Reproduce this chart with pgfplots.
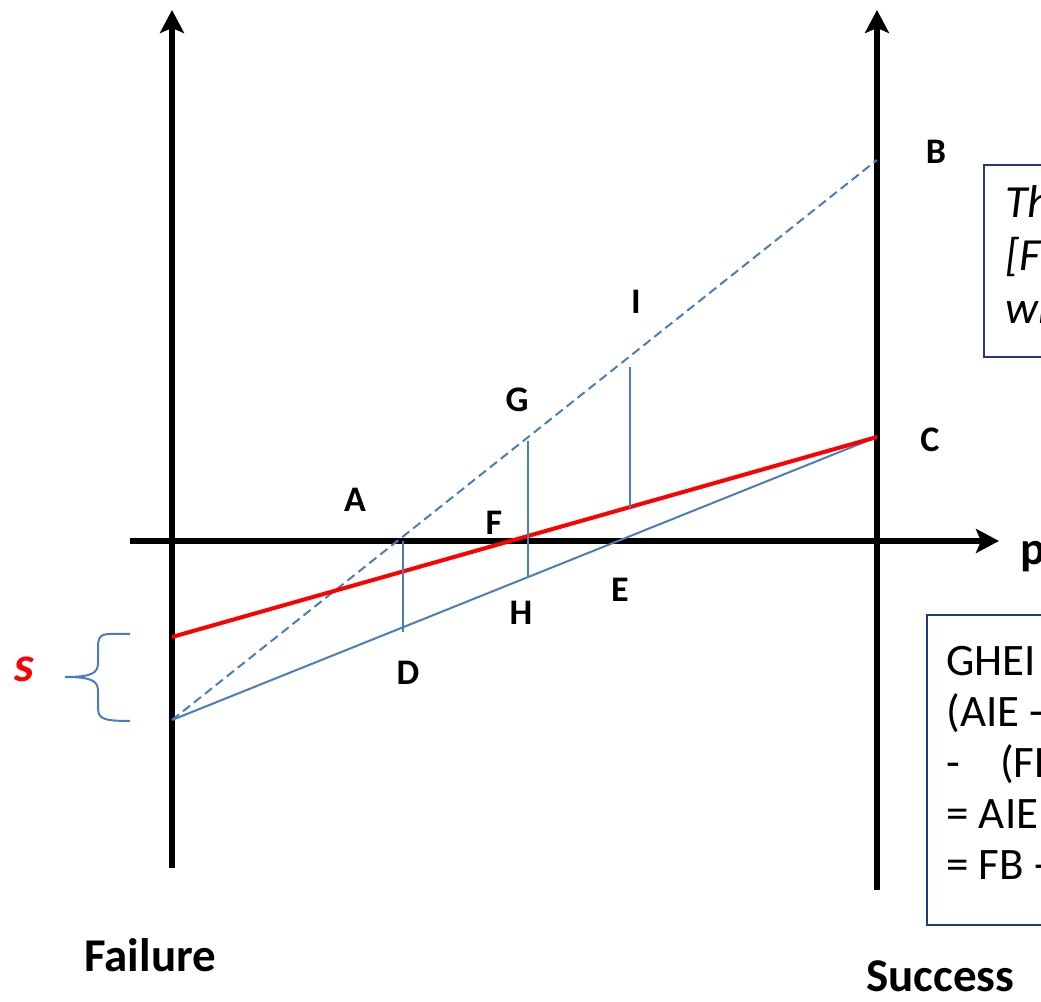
\documentclass[border=0pt]{standalone}
\usepackage{fontspec}
\setmainfont{Carlito}
\usepackage{pgfplots}
\pgfplotsset{compat=1.18}
\usetikzlibrary{arrows.meta}
\definecolor{lblue}{HTML}{4A7EBB}
\definecolor{navy}{HTML}{24397A}
\begin{document}
\begin{tikzpicture}
\useasboundingbox (0,0) rectangle (520.5pt,501pt);
\clip (0,0) rectangle (520.5pt,501pt);
\begin{axis}[at={(0,0)}, anchor=south west, scale only axis,
  width=520.5pt, height=501pt, xmin=0, xmax=1041, ymin=0, ymax=1002,
  hide axis, clip=false]
% axes
\addplot[black, line width=3pt, -{Stealth[length=11.5pt,width=12pt,inset=2.5pt]}] coordinates {(172,134) (172,992)};
\addplot[black, line width=3pt, -{Stealth[length=11.5pt,width=12pt,inset=2.5pt]}] coordinates {(877,112) (877,992)};
\addplot[black, line width=3pt, -{Stealth[length=11.5pt,width=12pt,inset=2.5pt]}] coordinates {(130,461) (999,461)};
% lines
\addplot[lblue, line width=1pt, dash pattern=on 4.5pt off 2.5pt] coordinates {(172,282) (877,842)};
\addplot[lblue, line width=1pt] coordinates {(172,282) (877,565)};
\addplot[red, line width=2pt] coordinates {(172,365) (877,565)};
\addplot[lblue, line width=1pt] coordinates {(403,461) (403,370)};
\addplot[lblue, line width=1pt] coordinates {(528,561) (528,424)};
\addplot[lblue, line width=1pt] coordinates {(630,635) (630,494)};
% brace
\draw[lblue, line width=1pt] (130,368) -- (110,368) .. controls (98,368) and (98,362) .. (98,352)
  -- (98,339) .. controls (98,329) and (92,325) .. (65,325)
  .. controls (92,325) and (98,321) .. (98,311) -- (98,296)
  .. controls (98,284) and (100,281) .. (130,281);
% point labels
\begin{scope}[every node/.style={font=\fontsize{18}{21}\selectfont\bfseries, inner sep=0pt}]
\node at (355,502) {A};
\node at (936,850) {B};
\node at (930,562) {C};
\node at (408,329) {D};
\node at (620,412) {E};
\node at (494,479) {F};
\node at (517,602) {G};
\node at (521,389) {H};
\node at (636,700) {I};
\end{scope}
\node[anchor=base west, inner sep=0pt, font=\fontsize{23.5}{27}\selectfont\bfseries] at (1020,437) {p};
\node[anchor=base, inner sep=0pt, text=red, font=\fontsize{25}{28}\selectfont\bfseries\itshape] at (24,320) {s};
\node[anchor=base west, inner sep=0pt, font=\fontsize{23.5}{27}\selectfont\bfseries] at (84,30) {Failure};
\node[anchor=base west, inner sep=0pt, font=\fontsize{23.5}{27}\selectfont\bfseries] at (866,10) {Success};
% text boxes
\draw[navy, line width=1pt] (984,837) rectangle (1300,645);
\begin{scope}[every node/.style={anchor=base west, inner sep=0pt, font=\fontsize{23}{27}\selectfont\itshape}]
\node at (1005,784) {The difference between};
\node at (1005,731) {[FB - EC] and};
\node at (1005,678) {which follows};
\end{scope}
\draw[navy, line width=1pt] (927,387) rectangle (1300,77);
\begin{scope}[every node/.style={anchor=base west, inner sep=0pt, font=\fontsize{22.5}{27}\selectfont}]
\node at (946,326) {GHEI =};
\node at (946,275) {(AIE - ADE)};
\node at (946,224) {-\hspace{20pt}(FBC)};
\node at (946,173) {= AIE};
\node at (946,122) {= FB - EC};
\end{scope}
\end{axis}
\end{tikzpicture}
\end{document}
